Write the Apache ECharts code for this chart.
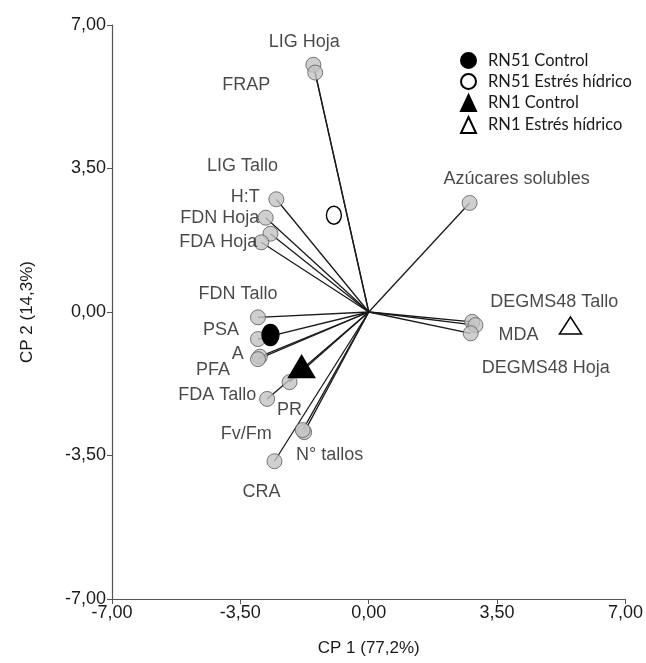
<!DOCTYPE html>
<html>
<head>
<meta charset="utf-8">
<script src="https://cdn.jsdelivr.net/npm/echarts@6/dist/echarts.min.js"></script>
<style>html,body{margin:0;padding:0;background:#fff;}#c{width:646px;height:663px;}</style>
</head>
<body>
<div id="c"></div>
<script>
const variables = ['LIG Hoja','FRAP','LIG Tallo','H:T','FDN Hoja','FDA Hoja','FDN Tallo','PSA','A','PFA','FDA Tallo','PR','Fv/Fm','N° tallos','CRA','Azúcares solubles','DEGMS48 Tallo','MDA','DEGMS48 Hoja'];
const cp1 = [-1.51,-1.46,-2.68,-2.52,-2.81,-2.93,-3.02,-3.02,-2.97,-3.02,-2.77,-2.16,-1.76,-1.80,-2.57,2.75,2.82,2.91,2.78];
const cp2 = [6.03,5.84,1.91,2.75,2.30,1.70,-0.13,-0.66,-1.09,-1.15,-2.12,-1.71,-2.93,-2.88,-3.64,2.66,-0.24,-0.32,-0.52];

const treatments = ['RN51 Control','RN51 Estrés hídrico','RN1 Control','RN1 Estrés hídrico'];
const cp1T = [-2.68,-0.95,-1.83,5.50];
const cp2T = [-0.56,2.36,-1.33,-0.33];

const xName = 'CP 1 (77,2%)';
const yName = 'CP 2 (14,3%)';

// label offsets in pixels (style)
const labelOffsets = {
  'LIG Hoja':[-9,-23],'FRAP':[-69,12],'LIG Tallo':[-28,-68],'H:T':[-31,-2],
  'FDN Hoja':[-46,0],'FDA Hoja':[-43,0],'FDN Tallo':[-20,-23],'PSA':[-37,-9],
  'A':[-22,-3],'PFA':[-45,11],'FDA Tallo':[-50,-4],'PR':[0,28],'Fv/Fm':[-58,2],
  'N° tallos':[27,25],'CRA':[-13,31],'Azúcares solubles':[47,-24],
  'DEGMS48 Tallo':[82,-20],'MDA':[43,10],'DEGMS48 Hoja':[75,35]
};
const treatStyles = [
  {symbol:'circle', size:[17,21], color:'#000'},
  {symbol:'circle', size:[15,18], color:'#fff'},
  {symbol:'triangle', size:[26,22], color:'#000'},
  {symbol:'triangle', size:[22,17], color:'#fff'}
];

const fmt = v => v.toFixed(2).replace('.', ',');
const font = 'Liberation Sans, Arial, sans-serif';

const lineData = variables.map((n,i)=>({coords:[[0,0],[cp1[i],cp2[i]]]}));
const pointData = variables.map((n,i)=>({name:n, value:[cp1[i],cp2[i]]}));

const treatSeries = treatments.map((t,i)=>({
  name:t, type:'scatter', z:10,
  symbol:treatStyles[i].symbol, symbolSize:treatStyles[i].size,
  itemStyle:{color:treatStyles[i].color, borderColor:'#000', borderWidth:1.5, opacity:1},
  data:[[cp1T[i],cp2T[i]]]
}));

const chart = echarts.init(document.getElementById('c'));
chart.setOption({
  animation:false,
  backgroundColor:'#fff',
  grid:{left:112, right:15, top:25, bottom:64},
  xAxis:{
    type:'value', min:-7, max:7, interval:3.5,
    name:xName, nameLocation:'middle', nameGap:41,
    nameTextStyle:{fontFamily:font, fontSize:17, color:'#1a1a1a'},
    axisLine:{onZero:false, lineStyle:{color:'#555', width:1.2}},
    axisTick:{show:true, length:5, lineStyle:{color:'#555'}},
    axisLabel:{formatter:fmt, fontFamily:font, fontSize:18, color:'#1a1a1a', margin:5, showMaxLabel:true, showMinLabel:true},
    splitLine:{show:false}
  },
  yAxis:{
    type:'value', min:-7, max:7, interval:3.5,
    name:yName, nameLocation:'middle', nameGap:76, nameRotate:90,
    nameTextStyle:{fontFamily:font, fontSize:17, color:'#1a1a1a'},
    axisLine:{onZero:false, lineStyle:{color:'#555', width:1.2}},
    axisTick:{show:true, length:5, lineStyle:{color:'#555'}},
    axisLabel:{formatter:fmt, fontFamily:font, fontSize:18, color:'#1a1a1a', margin:6},
    splitLine:{show:false}
  },
  legend:{
    orient:'vertical', left:455, top:47, itemWidth:15, itemHeight:16, itemGap:4,
    data:treatments,
    textStyle:{fontFamily:'Lato, Open Sans, sans-serif', fontSize:16.5, color:'#1a1a1a', padding:[0,0,0,7]}
  },
  series:[
    {type:'lines', coordinateSystem:'cartesian2d', z:2, silent:true,
     lineStyle:{color:'#1a1a1a', width:1.3, opacity:1}, data:lineData},
    {type:'scatter', z:5, symbol:'circle', symbolSize:15,
     itemStyle:{color:'#c3c3c3', borderColor:'#5a5a5a', borderWidth:1},
     label:{show:true, position:'inside', formatter:p=>p.name, fontFamily:font, fontSize:18, color:'#1a1a1a', align:'center', verticalAlign:'middle'},
     labelLayout:function(params){
       const o = labelOffsets[variables[params.dataIndex]] || [0,-20];
       return {dx:o[0], dy:o[1], hideOverlap:false};
     },
     data:pointData},
    ...treatSeries
  ]
});
</script>
</body>
</html>
